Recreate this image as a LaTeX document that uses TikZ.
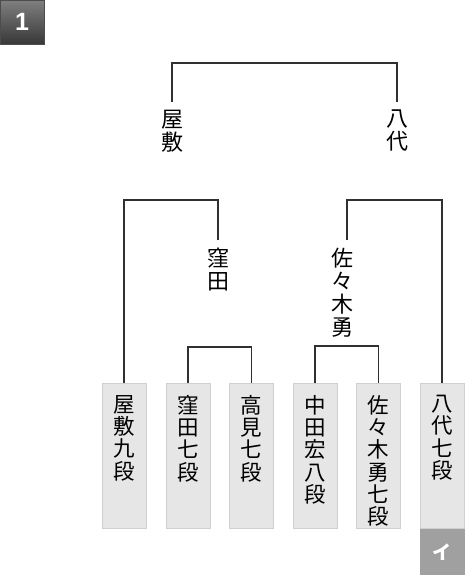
\documentclass[tikz,border=0pt]{standalone}
\usepackage{fontspec}
\newfontfamily\jp{Noto Sans CJK JP}
\newfontfamily\numfont{Liberation Sans}
\definecolor{boxgray}{HTML}{E6E6E6}
\definecolor{boxline}{HTML}{D0D0D0}
\definecolor{tabgray}{HTML}{A0A0A0}
\definecolor{wirecol}{HTML}{303030}

\begin{document}
\begin{tikzpicture}[x=1pt, y=-1pt,
  wire/.style={line width=1.4pt, color=wirecol},
  namelbl/.style={font=\jp\fontsize{22}{23}\selectfont, align=center, inner xsep=0pt, inner ysep=8pt, anchor=north},
  player/.style={draw=boxline, line width=1pt, fill=boxgray, minimum width=44pt, minimum height=145pt, inner sep=0pt, anchor=north}
]
\useasboundingbox (0,0) rectangle (467,575);

% round badge
\node[draw=black!70, top color=black!50, bottom color=black!78, minimum size=44pt, inner sep=0pt,
      text=white, font=\numfont\bfseries\fontsize{25}{25}\selectfont] (round) at (22,22) {1};

% players
\foreach \i/\x/\t in {1/124/{屋\\敷\\九\\段}, 2/188/{窪\\田\\七\\段}, 3/251.5/{高\\見\\七\\段},
                      4/315/{中\\田\\宏\\八\\段}, 5/378.5/{佐\\々\\木\\勇\\七\\段}, 6/442/{八\\代\\七\\段}}
{
  \node[player] (p\i) at (\x,383) {};
  \node[namelbl, inner ysep=12pt, font=\jp\fontsize{21.5}{22.3}\selectfont] (t\i) at (p\i.north) {\t};
}
\node[player, fill=tabgray, draw=tabgray, minimum height=45pt, text=white,
      font=\jp\bfseries\fontsize{19}{19}\selectfont] (tab) at (p6.south) {イ};

% winners
\node[namelbl] (w1) at (218,239.5) {窪\\田};
\node[namelbl] (w2) at (342,240) {佐\\々\\木\\勇};
\node[namelbl] (f1) at (172,102) {屋\\敷};
\node[namelbl] (f2) at (397,102) {八\\代};

% brackets
\draw[wire] (p2.north) -- ++(0,-36) -| (p3.north);
\draw[wire] (p4.north) -- ++(0,-37) -| (p5.north);
\draw[wire] (p1.north) -- ++(0,-183) -| (w1.north);
\draw[wire] ([xshift=5pt]w2.north) -- ++(0,-40) -| (p6.north);
\draw[wire] (f1.north) -- ++(0,-39) -| (f2.north);
\end{tikzpicture}
\end{document}
